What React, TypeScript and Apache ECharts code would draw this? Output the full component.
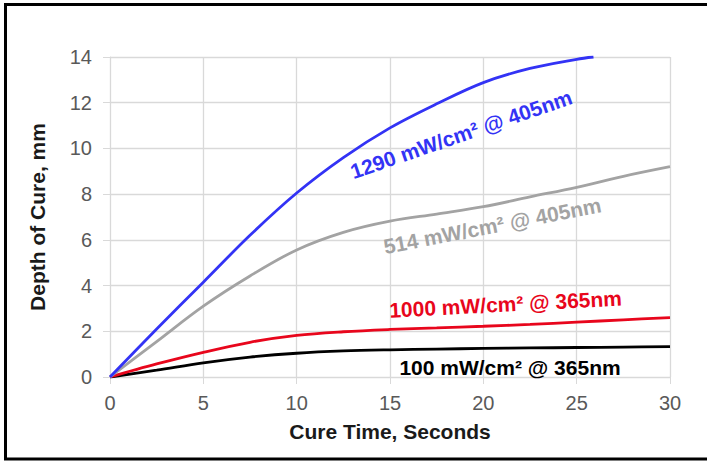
import React, { useEffect, useRef } from "react";
import * as echarts from "echarts";

const times = [0, 2.5, 5, 7.5, 10, 12.5, 15, 17.5, 20, 22.5, 25, 27.5, 30];
const blueTimes = [0, 2.5, 5, 7.5, 10, 12.5, 15, 17.5, 20, 22.5, 25, 25.9];
const blueVals = [0, 2.1, 4.15, 6.2, 8.05, 9.6, 10.9, 11.95, 12.88, 13.5, 13.9, 14.0];
const grayVals = [0, 1.55, 3.1, 4.42, 5.56, 6.33, 6.82, 7.13, 7.45, 7.88, 8.3, 8.78, 9.2];
const redVals = [0, 0.57, 1.08, 1.52, 1.82, 1.98, 2.08, 2.15, 2.22, 2.3, 2.4, 2.5, 2.6];
const blackVals = [0, 0.3, 0.62, 0.87, 1.04, 1.14, 1.19, 1.22, 1.25, 1.27, 1.29, 1.31, 1.33];

const seriesNames = [
  "1290 mW/cm² @ 405nm",
  "514 mW/cm² @ 405nm",
  "1000 mW/cm² @ 365nm",
  "100 mW/cm² @ 365nm",
];
const seriesColors = ["#3333f5", "#a3a3a3", "#e8061c", "#000000"];
// label anchor positions (data coords) and rotation
const labelT = [18.81, 20.48, 21.19, 21.43];
const labelV = [10.62, 6.62, 3.19, 0.42];
const labelRot = [19, 11, 3, 0];

const xTicks = { min: 0, max: 30, interval: 5 };
const yTicks = { min: 0, max: 14, interval: 2 };

const FONT = "'Liberation Sans', Arial, sans-serif";

function pairs(ts: number[], vs: number[]) {
  return ts.map((t, i) => [t, vs[i]]);
}

export default function App() {
  const ref = useRef<HTMLDivElement>(null);
  useEffect(() => {
    document.body.style.margin = "0";
    const chart = echarts.init(ref.current!, null, { renderer: "svg" });
    const gridColor = "#d9d9d9";
    const lineData = [
      pairs(blueTimes, blueVals),
      pairs(times, grayVals),
      pairs(times, redVals),
      pairs(times, blackVals),
    ];
    const lineSeries = lineData
      .map((d, i) => ({
        type: "line",
        name: seriesNames[i],
        data: d,
        smooth: 0.35,
        showSymbol: false,
        symbol: "none",
        lineStyle: { color: seriesColors[i], width: 2.8 },
        z: 10 - i,
      }))
      .reverse();
    chart.setOption({
      animation: false,
      backgroundColor: "#ffffff",
      grid: { left: 110, right: 37, top: 57, bottom: 84 },
      xAxis: {
        type: "value",
        ...xTicks,
        name: "Cure Time, Seconds",
        nameLocation: "middle",
        nameGap: 44,
        nameTextStyle: { fontFamily: FONT, fontSize: 21, fontWeight: "bold", color: "#1a1a1a" },
        axisLine: { show: true, lineStyle: { color: gridColor, width: 1 } },
        axisTick: { show: true, length: 7, lineStyle: { color: gridColor } },
        axisLabel: { margin: 16, color: "#595959", fontFamily: FONT, fontSize: 20 },
        splitLine: { show: true, lineStyle: { color: gridColor, width: 1.3 } },
      },
      yAxis: {
        type: "value",
        ...yTicks,
        name: "Depth of Cure, mm",
        nameLocation: "middle",
        nameRotate: 90,
        nameGap: 62,
        nameTextStyle: { fontFamily: FONT, fontSize: 21, fontWeight: "bold", color: "#1a1a1a" },
        axisLine: { show: true, lineStyle: { color: gridColor, width: 1 } },
        axisTick: { show: true, length: 7, lineStyle: { color: gridColor } },
        axisLabel: { margin: 18, color: "#595959", fontFamily: FONT, fontSize: 20 },
        splitLine: { show: true, lineStyle: { color: gridColor, width: 1.3 } },
      },
      series: [
        ...lineSeries,
        {
          type: "scatter",
          silent: true,
          symbolSize: 1,
          itemStyle: { color: "rgba(0,0,0,0)" },
          z: 20,
          data: seriesNames.map((n, i) => ({
            value: [labelT[i], labelV[i]],
            label: {
              show: true,
              position: "inside",
              formatter: n,
              rotate: labelRot[i],
              color: seriesColors[i],
              textBorderWidth: 0,
              textBorderColor: "transparent",
              opacity: 1,
              fontFamily: FONT,
              fontSize: 21,
              fontWeight: "bold",
            },
          })),
        },
      ],
      graphic: [
        {
          type: "rect",
          shape: { x: 5.5, y: 4.5, width: 720, height: 454.5 },
          style: { fill: "none", stroke: "#000000", lineWidth: 3 },
          silent: true,
        },
      ],
    });
    return () => chart.dispose();
  }, []);
  return <div ref={ref} style={{ width: 707, height: 461 }} />;
}
